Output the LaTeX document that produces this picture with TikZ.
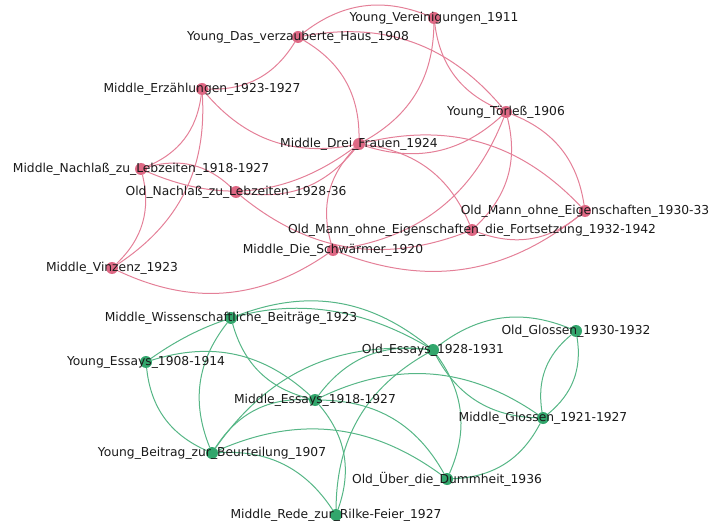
\documentclass[tikz,border=0pt]{standalone}
\usepackage{fontspec}
\setmainfont{DejaVu Sans}
\usetikzlibrary{backgrounds}
\definecolor{pnode}{RGB}{222,104,132}
\definecolor{pedge}{RGB}{228,128,152}
\definecolor{gnode}{RGB}{50,166,108}
\definecolor{gedge}{RGB}{86,182,134}
\definecolor{txt}{RGB}{26,26,26}
\tikzset{
  pk/.style={circle,fill=pnode,draw=none,minimum size=12bp,inner sep=0pt,
    label={[txt,font=\fontsize{12.3bp}{14bp}\selectfont,inner sep=0pt]center:#1}},
  gr/.style={circle,fill=gnode,draw=none,minimum size=12bp,inner sep=0pt,
    label={[txt,font=\fontsize{12.3bp}{14bp}\selectfont,inner sep=0pt]center:#1}},
  pe/.style={draw=pedge,line width=1bp,bend left=30},
  ge/.style={draw=gedge,line width=1bp,bend left=30},
}
\begin{document}
\begin{tikzpicture}[x=1bp,y=-1bp]
\path[use as bounding box] (0,0) rectangle (710,524);
% pink nodes
\node[pk={Young\_Das\_verzauberte\_Haus\_1908}] (vh) at (298,37) {};
\node[pk={Young\_Vereinigungen\_1911}] (ve) at (434,18) {};
\node[pk={Middle\_Erzählungen\_1923-1927}] (er) at (202,89) {};
\node[pk={Young\_Törleß\_1906}] (to) at (506,112) {};
\node[pk={Middle\_Drei\_Frauen\_1924}] (df) at (359,144) {};
\node[pk={Middle\_Nachlaß\_zu\_Lebzeiten\_1918-1927}] (nl) at (141,169) {};
\node[pk={Old\_Nachlaß\_zu\_Lebzeiten\_1928-36}] (onl) at (236,192) {};
\node[pk={Old\_Mann\_ohne\_Eigenschaften\_1930-33}] (moe) at (585,211) {};
\node[pk={Old\_Mann\_ohne\_Eigenschaften\_die\_Fortsetzung\_1932-1942}] (moef) at (472,230) {};
\node[pk={Middle\_Die\_Schwärmer\_1920}] (sc) at (333,250) {};
\node[pk={Middle\_Vinzenz\_1923}] (vi) at (112,268) {};
% green nodes
\node[gr={Middle\_Wissenschaftliche\_Beiträge\_1923}] (wb) at (231,318) {};
\node[gr={Young\_Essays\_1908-1914}] (ye) at (146,362) {};
\node[gr={Old\_Essays\_1928-1931}] (oe) at (433,350) {};
\node[gr={Old\_Glossen\_1930-1932}] (og) at (576,331) {};
\node[gr={Middle\_Essays\_1918-1927}] (me) at (315,400) {};
\node[gr={Middle\_Glossen\_1921-1927}] (mg) at (543,418) {};
\node[gr={Young\_Beitrag\_zur\_Beurteilung\_1907}] (yb) at (212,453) {};
\node[gr={Old\_Über\_die\_Dummheit\_1936}] (od) at (447,479) {};
\node[gr={Middle\_Rede\_zur\_Rilke-Feier\_1927}] (rr) at (336,515) {};
\begin{scope}[on background layer]
\path[pe] (vh) to (er);
\path[pe] (vh) to (ve);
\path[pe] (vh) to (to);
\path[pe] (vh) to (df);
\path[pe] (ve) to (df);
\path[pe] (to) to (ve);
\path[pe] (df) to (er);
\path[pe] (er) to (nl);
\path[pe] (er) to (vi);
\path[pe] (nl) to (onl);
\path[pe] (df) to (nl);
\path[pe] (nl) to (vi);
\path[pe] (df) to (onl);
\path[pe] (moef) to (onl);
\path[pe] (sc) to (vi);
\path[pe] (sc) to (df);
\path[pe] (df) to (moef);
\path[pe] (df) to (moe);
\path[pe] (to) to (df);
\path[pe] (to) to (moe);
\path[pe] (to) to (moef);
\path[pe] (to) to (sc);
\path[pe] (moe) to (sc);
\path[pe] (moe) to (moef);
% green
\path[ge,bend left=33] (ye) to (oe);
\path[ge] (ye) to (me);
\path[ge] (yb) to (ye);
\path[ge] (yb) to (wb);
\path[ge] (me) to (wb);
\path[ge] (wb) to (oe);
\path[ge] (yb) to (me);
\path[ge] (yb) to (oe);
\path[ge] (yb) to (od);
\path[ge] (yb) to (rr);
\path[ge] (me) to (rr);
\path[ge] (me) to (oe);
\path[ge] (me) to (mg);
\path[ge] (me) to (od);
\path[ge] (mg) to (oe);
\path[ge] (oe) to (od);
\path[ge] (oe) to (og);
\path[ge] (rr) to (oe);
\path[ge] (og) to (mg);
\path[ge] (mg) to (og);
\path[ge] (mg) to (od);
\end{scope}
\end{tikzpicture}
\end{document}
